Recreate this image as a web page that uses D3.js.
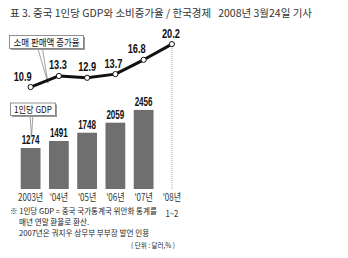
<!DOCTYPE html>
<html><head><meta charset="utf-8">
<script src="https://cdn.jsdelivr.net/npm/d3@7"></script>
<style>
html,body{margin:0;padding:0;background:#fff;}
svg{display:block;}
</style>
</head><body>
<svg id="c" width="348" height="258"></svg>
<script>
// ---- data ----
const years = ["2003년", "'04년", "'05년", "'06년", "'07년", "'08년"];
const retailGrowth = [10.9, 13.3, 12.9, 13.7, 16.8, 20.2];
const gdpPerCapita = [1274, 1491, 1748, 2059, 2456];
const titleText = "표 3. 중국 1인당 GDP와 소비증가율 / 한국경제   2008년 3월24일 기사";
const lineLegend = "소매 판매액 증가율";
const barLegend = "1인당 GDP";
const lastSubLabel = "1~2";
const notes = ["※ 1인당 GDP = 중국 국가통계국 위안화 통계를", "매년 연말 환율로 환산.", "2007년은 궈지우 상무부 부부장 발언 인용"];
const unitText = "( 단위 : 달러,% )";
const lineLabelDx = [-8, -1, 0, -2, -7, -1];

// ---- drawing ----
const svg = d3.select("#c");
const KR = "'Noto Sans CJK KR', 'Noto Sans', sans-serif";
const NUM = "'Liberation Sans', 'Noto Sans', sans-serif";

// horizontally squeezed text: natural text scaled to a target width
function squeezed(parent, x0, y0, str, size, width, anchor, extra) {
  const t = parent.append("text").attr("font-family", KR).attr("font-size", size).attr("fill", "#222").text(str);
  if (extra) extra(t);
  const w = t.node().getComputedTextLength();
  const k = Math.min(1, width / w);
  const ax = anchor === "end" ? x0 - width : anchor === "middle" ? x0 - width / 2 : x0;
  t.attr("transform", `translate(${ax},${y0}) scale(${k},1)`);
  return t;
}

const x = d3.scaleBand().domain(years).range([16.5, 186]).paddingInner(0.3).paddingOuter(0.15);
const cx = d => x(d) + x.bandwidth() / 2;
const yBar = d3.scaleLinear().domain([0, 2500]).range([189, 108.5]);
const yLine = d3.scaleLinear().domain([10, 21]).range([91.2, 40.4]);

// title
squeezed(svg, 10, 17, titleText, 10.5, 331, "start", t => t.attr("fill", "#333").style("white-space", "pre"));

// dotted vertical line at last category
svg.append("line")
  .attr("x1", cx(years[5])).attr("x2", cx(years[5]))
  .attr("y1", yLine(retailGrowth[5])).attr("y2", 190)
  .attr("stroke", "#999").attr("stroke-width", 0.8).attr("stroke-dasharray", "1,1");

// bars
svg.append("g").selectAll("rect").data(gdpPerCapita).join("rect")
  .attr("x", (d, i) => x(years[i]))
  .attr("y", d => yBar(d))
  .attr("width", x.bandwidth())
  .attr("height", d => yBar(0) - yBar(d))
  .attr("fill", "#6f6f6f");

svg.append("g").selectAll("text").data(gdpPerCapita).join("text")
  .attr("x", (d, i) => cx(years[i]))
  .attr("y", d => yBar(d) - 3.5)
  .attr("text-anchor", "middle")
  .attr("font-family", NUM).attr("font-weight", "bold").attr("font-size", 12)
  .attr("fill", "#111")
  .attr("textLength", 18).attr("lengthAdjust", "spacingAndGlyphs")
  .text(d => d);

// x axis
const ax = svg.append("g").attr("transform", "translate(0,190)")
  .call(d3.axisBottom(x).tickSize(0).tickPadding(4));
ax.select(".domain").remove();
ax.selectAll("text").attr("font-family", KR).attr("font-size", 10).attr("fill", "#333")
  .each(function () {
    const w = this.getComputedTextLength();
    d3.select(this).attr("textLength", w * 0.8).attr("lengthAdjust", "spacingAndGlyphs");
  });
squeezed(svg, cx(years[5]), 216.5, lastSubLabel, 9, 13, "middle", t => t.attr("fill", "#333"));

// callout tail: line legend
svg.append("path")
  .attr("d", d3.line()([[38, 49], [48, 83], [42.5, 49]]))
  .attr("fill", "#fff").attr("stroke", "#777").attr("stroke-width", 0.7);

// line
const line = d3.line().x((d, i) => cx(years[i])).y(d => yLine(d));
svg.append("path").datum(retailGrowth)
  .attr("d", line).attr("fill", "none").attr("stroke", "#111").attr("stroke-width", 3)
  .attr("stroke-linejoin", "round");
svg.append("g").selectAll("circle").data(retailGrowth).join("circle")
  .attr("cx", (d, i) => cx(years[i])).attr("cy", d => yLine(d)).attr("r", 2.6)
  .attr("fill", "#fff").attr("stroke", "#111").attr("stroke-width", 1);
svg.append("g").selectAll("text").data(retailGrowth).join("text")
  .attr("x", (d, i) => cx(years[i]) + lineLabelDx[i])
  .attr("y", d => yLine(d) - 6.5)
  .attr("text-anchor", "middle")
  .attr("font-family", NUM).attr("font-weight", "bold").attr("font-size", 12)
  .attr("fill", "#111")
  .attr("textLength", 18).attr("lengthAdjust", "spacingAndGlyphs")
  .text(d => d.toFixed(1));

// legend boxes
function box(x0, y0, w, h, label, tl) {
  svg.append("rect").attr("x", x0 + 1.5).attr("y", y0 + 1.5).attr("width", w).attr("height", h).attr("fill", "#9a9a9a");
  svg.append("rect").attr("x", x0).attr("y", y0).attr("width", w).attr("height", h)
    .attr("fill", "#fff").attr("stroke", "#777").attr("stroke-width", 0.8);
  squeezed(svg, x0 + w / 2, y0 + h / 2 + 3.5, label, 9.5, tl, "middle", t => t.attr("fill", "#111"));
}
box(9.5, 35.5, 74, 13, lineLegend, 66);
svg.append("path")
  .attr("d", d3.line()([[30, 114], [31.5, 137], [33, 114]]))
  .attr("fill", "#fff").attr("stroke", "#777").attr("stroke-width", 0.7);
box(10.5, 103, 45, 12.5, barLegend, 38);

// notes
squeezed(svg, 10, 214, notes[0], 7.6, 147, "start");
squeezed(svg, 19, 225.1, notes[1], 7.6, 76, "start");
squeezed(svg, 19, 236.2, notes[2], 7.6, 131, "start");
squeezed(svg, 175, 247.5, unitText, 7, 44, "end");
</script>
</body></html>
